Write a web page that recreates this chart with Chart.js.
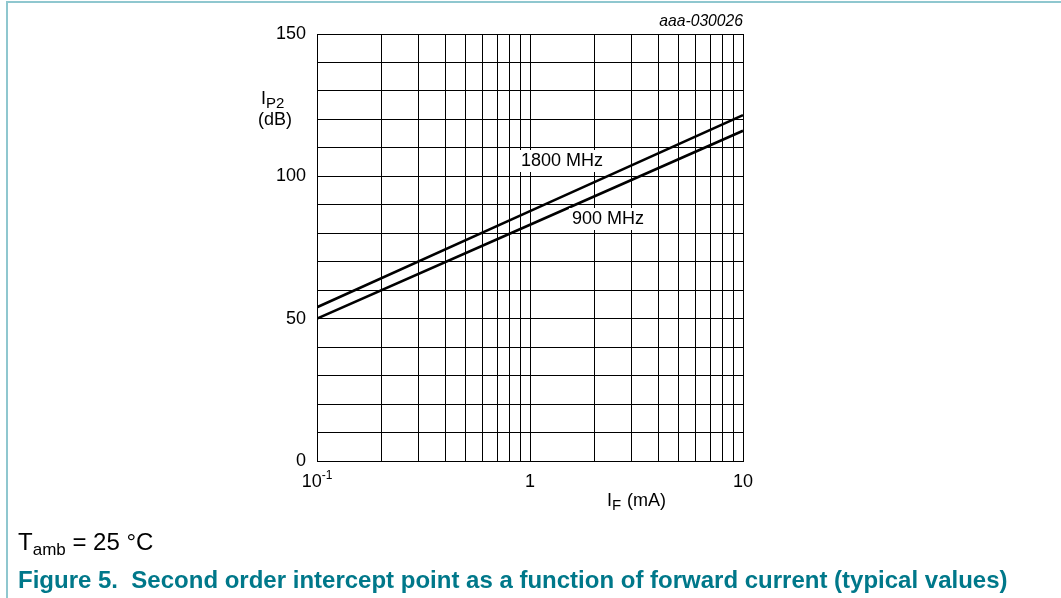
<!DOCTYPE html>
<html>
<head>
<meta charset="utf-8">
<script src="https://cdn.jsdelivr.net/npm/chart.js@4"></script>
<style>
  html, body { margin: 0; padding: 0; background: #fff; }
  #wrap { position: relative; width: 1061px; height: 598px; overflow: hidden; font-family: "Liberation Sans", Arial, sans-serif; }
  #frame { position: absolute; left: 6px; top: 1px; width: 1100px; height: 700px; border-left: 2px solid #8fc7cf; border-top: 2px solid #8fc7cf; }
  #chartBox { position: absolute; left: 0; top: 0; width: 1061px; height: 598px; }
  #tamb { position: absolute; left: 18px; top: 528px; font-size: 24px; color: #000; white-space: nowrap; }
  #tamb sub { font-size: 17px; vertical-align: -5px; }
  #caption { position: absolute; left: 18px; top: 566px; font-size: 24px; font-weight: bold; color: #00788a; white-space: nowrap; }
</style>
</head>
<body>
<div id="wrap">
  <div id="frame"></div>
  <div id="chartBox"><canvas id="myChart" width="1061" height="598"></canvas></div>
  <div id="tamb">T<sub>amb</sub> = 25 °C</div>
  <div id="caption">Figure 5.&nbsp; Second order intercept point as a function of forward current (typical values)</div>
</div>
<script>
// data (straight lines on log x)
const currents = [0.1, 1, 10];
const ip2_1800 = [54, 87.8, 121.5];
const ip2_900 = [50, 83, 116];

// grid and tick labels
const xGrid = [0.1, 0.2, 0.3, 0.4, 0.5, 0.6, 0.7, 0.8, 0.9, 1, 2, 3, 4, 5, 6, 7, 8, 9, 10];
const xLabels = [[0.1, '10', '-1'], [1, '1', ''], [10, '10', '']];
const yGrid = [0, 10, 20, 30, 40, 50, 60, 70, 80, 90, 100, 110, 120, 130, 140, 150];
const yLabels = [0, 50, 100, 150];

const FONT = '"Liberation Sans", Arial, sans-serif';

// draws the tick labels, axis titles and curve labels
const textPlugin = {
  id: 'textPlugin',
  afterDraw(chart) {
    const ctx = chart.ctx;
    const xs = chart.scales.x, ys = chart.scales.y;
    const a = chart.chartArea;
    ctx.save();
    ctx.fillStyle = '#000';
    ctx.font = '18px ' + FONT;
    ctx.textBaseline = 'middle';
    ctx.textAlign = 'right';
    yLabels.forEach(v => ctx.fillText(String(v), a.left - 11, ys.getPixelForValue(v)));

    // x labels with superscript
    xLabels.forEach(([v, base, sup]) => {
      const px = xs.getPixelForValue(v);
      ctx.font = '18px ' + FONT;
      const w1 = ctx.measureText(base).width;
      ctx.font = '12px ' + FONT;
      const w2 = sup ? ctx.measureText(sup).width : 0;
      let x0 = px - (w1 + w2) / 2;
      ctx.textAlign = 'left';
      ctx.textBaseline = 'alphabetic';
      ctx.font = '18px ' + FONT;
      ctx.fillText(base, x0, a.bottom + 26);
      if (sup) {
        ctx.font = '12px ' + FONT;
        ctx.fillText(sup, x0 + w1, a.bottom + 18);
      }
    });

    // y title
    ctx.textAlign = 'left';
    ctx.font = '18px ' + FONT;
    ctx.fillText('I', 261, 104);
    ctx.font = '15px ' + FONT;
    ctx.fillText('P2', 266, 108);
    ctx.font = '18px ' + FONT;
    ctx.fillText('(dB)', 258, 125);

    // x title
    ctx.fillText('I', 607, 506);
    ctx.font = '15px ' + FONT;
    ctx.fillText('F', 612, 510);
    ctx.font = '18px ' + FONT;
    ctx.fillText('(mA)', 627, 506);

    // figure id
    ctx.textAlign = 'right';
    ctx.font = 'italic 15.7px ' + FONT;
    ctx.fillText('aaa-030026', a.right, 26);

    // curve labels with white box
    const lbl = (t, cx, cy) => {
      ctx.font = '18px ' + FONT;
      const w = ctx.measureText(t).width;
      ctx.fillStyle = '#fff';
      ctx.fillRect(cx - w / 2 - 3, cy - 11, w + 6, 22);
      ctx.fillStyle = '#000';
      ctx.textAlign = 'center';
      ctx.textBaseline = 'middle';
      ctx.fillText(t, cx, cy);
    };
    lbl('1800 MHz', 562, 161);
    lbl('900 MHz', 608, 219);
    ctx.restore();
  }
};

new Chart(document.getElementById('myChart'), {
  type: 'line',
  data: {
    labels: currents,
    datasets: [
      { label: '1800 MHz', data: currents.map((c, i) => ({ x: c, y: ip2_1800[i] })), borderColor: '#000', borderWidth: 2.6, pointRadius: 0, fill: false, tension: 0 },
      { label: '900 MHz', data: currents.map((c, i) => ({ x: c, y: ip2_900[i] })), borderColor: '#000', borderWidth: 2.6, pointRadius: 0, fill: false, tension: 0 }
    ]
  },
  options: {
    responsive: false,
    animation: false,
    events: [],
    layout: { padding: { left: 317, top: 34, right: 318, bottom: 137 } },
    plugins: { legend: { display: false }, tooltip: { enabled: false } },
    scales: {
      x: {
        type: 'logarithmic', min: 0.1, max: 10,
        afterBuildTicks: axis => { axis.ticks = xGrid.map(v => ({ value: v })); },
        ticks: { display: false },
        grid: { color: '#000', lineWidth: 1, drawTicks: false },
        border: { color: '#000', width: 1 }
      },
      y: {
        min: 0, max: 150,
        afterBuildTicks: axis => { axis.ticks = yGrid.map(v => ({ value: v })); },
        ticks: { display: false },
        grid: { color: '#000', lineWidth: 1, drawTicks: false },
        border: { color: '#000', width: 1 }
      }
    }
  },
  plugins: [textPlugin]
});
</script>
</body>
</html>
